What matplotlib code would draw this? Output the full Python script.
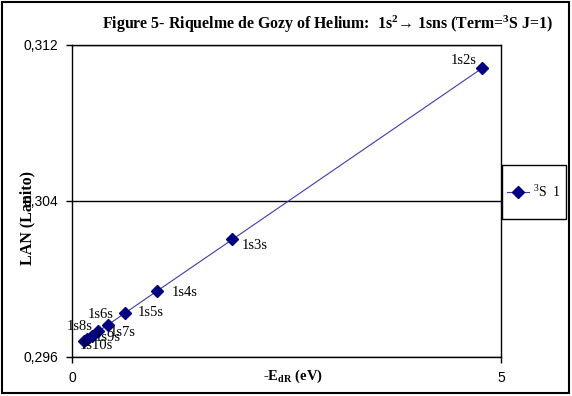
import matplotlib
matplotlib.use('Agg')
import matplotlib.pyplot as plt
from matplotlib.patches import Rectangle
from matplotlib.ticker import FuncFormatter

# data
states = ['1s2s', '1s3s', '1s4s', '1s5s', '1s6s', '1s7s', '1s8s', '1s9s', '1s10s']
energy = [4.78, 1.87, 0.99, 0.616, 0.419, 0.304, 0.230, 0.180, 0.145]
lanito = [0.31081, 0.30203, 0.29938, 0.29825, 0.29765, 0.29731, 0.29708, 0.29693, 0.29683]
yticks = [0.296, 0.304, 0.312]
xticks = [0, 5]

# label offsets in pixels (dx, dy)
offsets = [(-18, 8), (22, -6), (28, -1), (26, 1), (-7, 10), (25, -1), (-12, 9), (20, 1), (12, -5)]

serif = 'Liberation Serif'
sans = 'Liberation Sans'
plt.rcParams['mathtext.fontset'] = 'custom'
plt.rcParams['mathtext.rm'] = 'Liberation Serif'
plt.rcParams['mathtext.bf'] = 'Liberation Serif:bold'
plt.rcParams['mathtext.it'] = 'Liberation Serif:italic'

fig = plt.figure(figsize=(5.72, 3.96), dpi=100)
ax = fig.add_axes([72/572, 39/396, 429/572, 312/396])

ax.plot(energy, lanito, color='#3c3ca8', lw=0.8, marker='D', markersize=6,
        markerfacecolor='#000080', markeredgecolor='#000080', label='$^{3}$S  1', zorder=3)

for name, x, y, (dx, dy) in zip(states, energy, lanito, offsets):
    ax.annotate(name, (x, y), xytext=(dx, dy), textcoords='offset pixels',
                ha='center', va='center', fontsize=10.5, family=serif, zorder=4)

ax.set_xlim(0, 5)
ax.set_ylim(0.296, 0.312)
ax.set_xticks(xticks)
ax.set_yticks(yticks)
ax.yaxis.set_major_formatter(FuncFormatter(lambda v, p: ('%.3f' % v).replace('.', ',')))
ax.tick_params(direction='out', length=4, width=1, labelsize=10, pad=6)
for lab in ax.get_xticklabels() + ax.get_yticklabels():
    lab.set_family(sans)
ax.yaxis.grid(True, color='black', lw=1)
ax.set_axisbelow(True)
for s in ax.spines.values():
    s.set_linewidth(1)

fig.text(327/572, 1 - 24/396,
         'Figure 5- Riquelme de Gozy of Helium:  1s$^{\\mathbf{2}}$\u2192 1sns (Term=$^{\\mathbf{3}}$S J=1)',
         ha='center', va='center', fontsize=11.4, fontweight='bold', family=serif)
fig.text(27/572, 1 - 218/396, 'LAN (Lanito)', rotation=90, ha='center', va='center',
         fontsize=11.5, fontweight='bold', family=serif)
fig.text(293/572, 1 - 376/396, '-E$_{\\mathbf{dR}}$ (eV)', ha='center', va='center',
         fontsize=10.5, fontweight='bold', family=serif)

leg = fig.legend(loc='center', bbox_to_anchor=(534/572, 1 - 192/396), frameon=False,
                 handlelength=1.6, handletextpad=0.3, borderpad=0.2,
                 prop={'family': serif, 'size': 10})

fig.patches.append(Rectangle((502/572, (396 - 219)/396), 64/572, 54/396, transform=fig.transFigure,
                             fill=False, edgecolor='black', lw=1))
fig.patches.append(Rectangle((2/572, 3/396), 567/572, 391/396, transform=fig.transFigure,
                             fill=False, edgecolor='black', lw=1.5))

fig.savefig('out.png', dpi=100)
plt.close(fig)
